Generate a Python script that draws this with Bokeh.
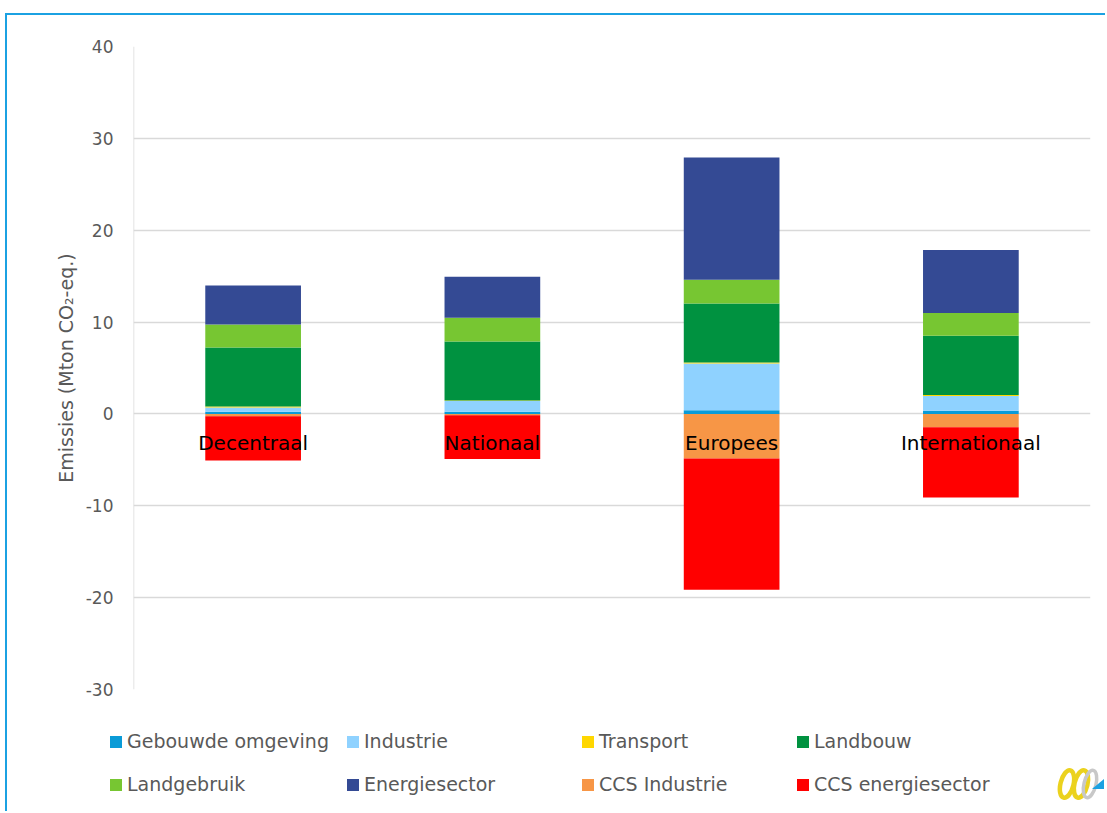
from bokeh.plotting import figure
from bokeh.models import ColumnDataSource, FactorRange, FixedTicker, Span, Div
from bokeh.layouts import column
from bokeh.core.properties import value
from bokeh.embed import file_html
from bokeh.resources import INLINE

categories = ["Decentraal", "Nationaal", "Europees", "Internationaal"]
gebouwde_omgeving = [0.25, 0.25, 0.4, 0.35]
industrie = [0.45, 1.15, 5.1, 1.6]
transport = [0.1, 0.05, 0.1, 0.1]
landbouw = [6.43, 6.43, 6.42, 6.45]
landgebruik = [2.5, 2.6, 2.6, 2.5]
energiesector = [4.25, 4.45, 13.3, 6.85]
ccs_industrie = [-0.25, -0.15, -4.85, -1.45]
ccs_energiesector = [-4.82, -4.75, -14.3, -7.65]
y_ticks = [-30, -20, -10, 0, 10, 20, 30, 40]

pos_names = ["Gebouwde omgeving", "Industrie", "Transport", "Landbouw", "Landgebruik", "Energiesector"]
neg_names = ["CCS Industrie", "CCS energiesector"]
pos_colors = ["#0A9BD7", "#8FD2FF", "#FFD700", "#009240", "#77C632", "#344A94"]
neg_colors = ["#F79646", "#FF0000"]

data = dict(cat=categories)
for n, v in zip(pos_names + neg_names,
                [gebouwde_omgeving, industrie, transport, landbouw, landgebruik, energiesector,
                 ccs_industrie, ccs_energiesector]):
    data[n] = v
data["zero"] = [0] * len(categories)
src = ColumnDataSource(data)

FONT = "DejaVu Sans"
GRAY = "#595959"

p = figure(x_range=FactorRange(*categories, range_padding=0), y_range=(-30, 40),
           width=1098, height=686, output_backend="svg", toolbar_location=None,
           min_border_left=126, min_border_right=15, min_border_top=31, min_border_bottom=12)
p.outline_line_color = None
p.xgrid.grid_line_color = None
p.ygrid.grid_line_color = "#D9D9D9"
p.ygrid.grid_line_width = 1.5
p.xaxis.visible = False
p.yaxis.ticker = FixedTicker(ticks=y_ticks)
p.yaxis.major_label_overrides = {t: str(t) for t in y_ticks}
p.yaxis.axis_line_color = None
p.yaxis.major_tick_line_color = None
p.yaxis.major_tick_out = 0
p.yaxis.major_tick_in = 0
p.yaxis.minor_tick_line_color = None
p.yaxis.major_label_standoff = 20
p.yaxis.major_label_text_font = FONT
p.yaxis.major_label_text_font_size = "17px"
p.yaxis.major_label_text_color = GRAY
p.yaxis.axis_label = "Emissies (Mton CO₂-eq.)"
p.yaxis.axis_label_text_font = FONT
p.yaxis.axis_label_text_font_size = "19px"
p.yaxis.axis_label_text_font_style = "normal"
p.yaxis.axis_label_text_color = GRAY
p.yaxis.axis_label_standoff = 6
p.add_layout(Span(location=0, dimension="height", line_color="#D9D9D9", line_width=1.5))

p.vbar_stack(pos_names, x="cat", width=0.4, source=src, color=pos_colors, line_width=0)
p.vbar_stack(neg_names, x="cat", width=0.4, source=src, color=neg_colors, line_width=0)

p.text(x="cat", y="zero", text="cat", source=src, y_offset=29, text_align="center",
       text_baseline="middle", text_font=value(FONT), text_font_size="20px", text_color="black")

# legend (HTML) below the chart, in 4 columns x 2 rows
color_of = dict(zip(pos_names + neg_names, pos_colors + neg_colors))
legend_columns = [["Gebouwde omgeving", "Landgebruik"], ["Industrie", "Energiesector"],
                  ["Transport", "CCS Industrie"], ["Landbouw", "CCS energiesector"]]
col_left = [103, 340, 575, 790]
row_center = [41, 84]
items_html = []
for cx, names in zip(col_left, legend_columns):
    for ry, n in zip(row_center, names):
        items_html.append(
            f'<div style="position:absolute;left:{cx}px;top:{ry - 12}px;height:24px;'
            f'display:flex;align-items:center;white-space:nowrap;">'
            f'<span style="display:inline-block;width:12px;height:12px;background:{color_of[n]};'
            f'margin-right:5px;"></span><span>{n}</span></div>')
logo_svg = (
    '<svg style="position:absolute;left:1050px;top:59px;" width="48" height="46" viewBox="0 0 48 46">'
    '<ellipse cx="10" cy="24" rx="6.5" ry="14" transform="rotate(14 10 24)" fill="none" '
    'stroke="#EBD21E" stroke-width="4.5"/>'
    '<ellipse cx="24" cy="24" rx="6.5" ry="14" transform="rotate(14 24 24)" fill="none" '
    'stroke="#EBD21E" stroke-width="4.5"/>'
    '<ellipse cx="33" cy="24" rx="6" ry="14" transform="rotate(14 33 24)" fill="none" '
    'stroke="#C8C8C8" stroke-width="3.5"/>'
    '<polygon points="35,29 47,29 47,19" fill="#1BA1E2"/></svg>')
legend_div = Div(
    text=(f'<div style="position:relative;width:1098px;height:110px;font-family:\'{FONT}\';'
          f'font-size:19px;color:{GRAY};">' + "".join(items_html) + logo_svg + '</div>'),
    width=1098, height=110, margin=0)

lay = column(p, legend_div, spacing=0)
lay.styles = {"border-top": "2px solid #1BA1E2", "border-left": "2px solid #1BA1E2",
              "margin-left": "5px", "margin-top": "13px"}

open("out.html", "w").write(file_html(lay, INLINE))
